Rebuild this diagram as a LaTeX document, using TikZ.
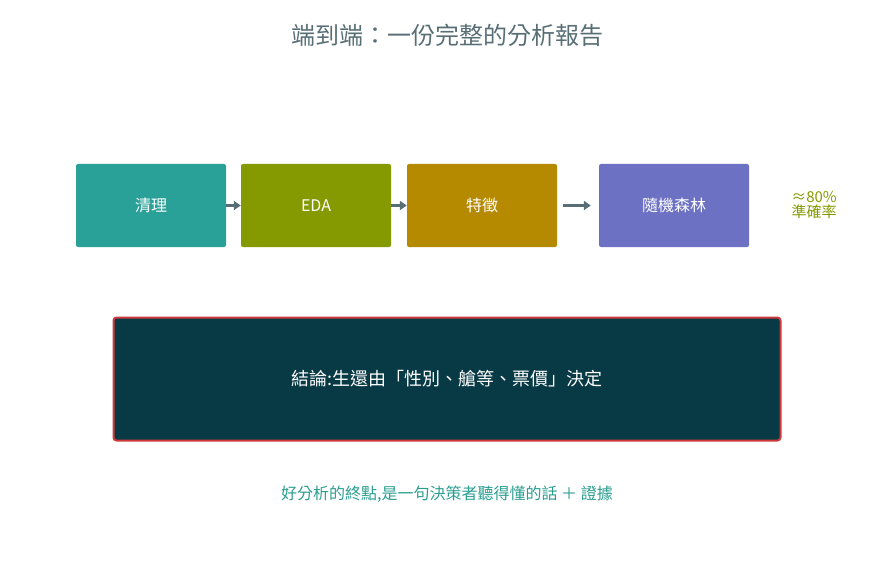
\documentclass[tikz,border=0pt]{standalone}
\usepackage{fontspec}
\setmainfont{Noto Sans CJK TC}
\usetikzlibrary{arrows.meta}
\definecolor{cA}{HTML}{2AA198}
\definecolor{cB}{HTML}{859900}
\definecolor{cC}{HTML}{B58900}
\definecolor{cD}{HTML}{6C71C4}
\definecolor{dark}{HTML}{083A45}
\definecolor{redb}{HTML}{D0393B}
\definecolor{grey}{HTML}{586E75}
\definecolor{teal}{HTML}{2A9D8F}
\tikzset{stepbox/.style={minimum width=150pt,minimum height=83pt,rounded corners=2pt,text=white,font=\fontsize{16}{18}\selectfont,inner sep=0pt},
arr/.style={-{Triangle[length=7pt,width=9pt]},line width=3pt,draw=grey}}
\begin{document}
\begin{tikzpicture}[x=1pt,y=-1pt]
\useasboundingbox (0,0) rectangle (894,564);
\node[text=grey,font=\fontsize{24}{28}\selectfont] (t) at (447,35) {端到端：一份完整的分析報告};
\node[stepbox,fill=cA] (a) at (151,205.5) {清理};
\node[stepbox,fill=cB] (b) at (316,205.5) {EDA};
\node[stepbox,fill=cC] (c) at (482,205.5) {特徵};
\node[stepbox,fill=cD] (d) at (674,205.5) {隨機森林};
\draw[arr] (a.east) -- (b.west);
\draw[arr] (b.east) -- (c.west);
\draw[arr] ([xshift=6pt]c.east) -- ([xshift=-8pt]d.west);
\node[text=cB,font=\fontsize{15}{18}\selectfont,align=center] (acc) at (814,205) {≈80\%\\[-3pt]準確率};
\node[draw=redb,line width=2pt,fill=dark,rounded corners=3pt,minimum width=667pt,minimum height=123pt,text=white,font=\fontsize{18}{20}\selectfont] (con) at (447,379) {結論:生還由「性別、艙等、票價」決定};
\node[text=teal,font=\fontsize{16}{18}\selectfont] (f) at (447,494) {好分析的終點,是一句決策者聽得懂的話 ＋ 證據};
\end{tikzpicture}
\end{document}
